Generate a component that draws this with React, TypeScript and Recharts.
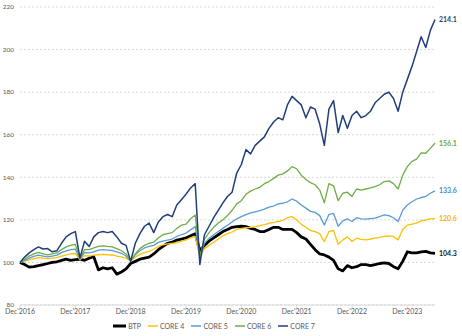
import { CartesianGrid, LabelList, Legend, Line, LineChart, XAxis, YAxis } from 'recharts'

// monthly index values, Dec'2016 = 100 (m0) through Jun'2024 (m90)
const btp = [
  100, 99, 97.8, 98, 98.5, 99, 99.5, 100, 100.3, 101, 101.5, 101, 101.3,
  101.5, 101, 102, 102.7, 96.5, 97.5, 97, 97.5, 94.5, 95.5, 97, 99.5,
  100.5, 101.5, 102, 102.5, 104, 106, 107.5, 109, 109.5, 110.5, 111, 111.5,
  112.5, 113.5, 105.5, 108, 110, 111.5, 113, 114.5, 115.5, 116.5, 116.8, 117,
  116.8, 116, 115.5, 114.5, 114.5, 115.5, 116.5, 116.5, 115.5, 115.5, 115.5, 114,
  112, 111, 108.5, 106, 104, 103.5, 102.5, 101, 97, 96, 98.5, 97.5,
  98, 99, 99, 98.5, 99, 99.5, 99.8, 99.5, 98, 97, 100.5, 105,
  104.5, 104.5, 105, 105.2, 104.5, 104.3,
]

const core4 = [
  100, 100.6, 101.2, 101.8, 102.3, 102, 101.8, 102, 102.3, 103, 103.6, 104, 104.2,
  101.2, 103.2, 103, 103.4, 103.6, 103.8, 103.6, 103.5, 103, 102.6, 102, 100.6,
  102.5, 103.8, 104.6, 105.2, 106.2, 107.5, 108.3, 108.7, 109, 109.2, 110, 110.6,
  111.5, 112.2, 102.5, 106.5, 108, 109.5, 111, 112.5, 113.5, 114.3, 115.5, 116,
  116.3, 116.5, 116.8, 117.3, 117.8, 118.4, 118.8, 119.3, 119.8, 121, 121.5, 120,
  118, 116.5, 115, 114.5, 113.5, 109.8, 114.5, 115, 108.5, 110.6, 112, 109.8,
  111.4, 110.8, 110.6, 111, 111.4, 111.8, 112.2, 112.5, 112.2, 110.6, 115.5, 117.5,
  118, 118.5, 119.5, 120, 120.5, 120.6,
]

const core5 = [
  100, 101, 102, 102.8, 103.4, 103, 102.6, 103, 103.4, 104.6, 105.4, 106, 106.3,
  101.5, 104.6, 104.5, 105, 105.8, 106, 105.8, 105.6, 105, 104.3, 103, 100.6,
  103.6, 105.5, 106.8, 107.5, 108, 109.4, 110, 110.5, 111, 112.2, 113, 113.8,
  115.3, 116.9, 102.5, 109, 111.3, 113, 114.5, 116, 117.5, 119, 120.5, 121.5,
  122.5, 123.3, 123.8, 124.3, 125, 126, 126.5, 127.5, 127.8, 128.5, 129.8, 128.8,
  127, 125.5, 124, 123.5, 122, 117.6, 122.5, 123, 117, 119.5, 120.5, 119.2,
  121, 120.5, 120.3, 120.6, 120.8, 121.5, 122.3, 122, 121, 119.2, 124.5, 127,
  128.5, 129.8, 130.5, 131, 132.5, 133.6,
]

const core6 = [
  100, 101.5, 103, 104, 104.7, 104, 103.5, 104, 104.5, 106, 107.3, 108, 108.5,
  101.8, 106, 106, 106.8, 107.5, 107.8, 107.5, 107.3, 106.5, 105.5, 104, 100.8,
  104, 106.5, 108, 109, 109.5, 111.5, 113, 113.5, 114, 116, 117.5, 118,
  120.5, 122.3, 103, 111, 114, 116.5, 118.5, 120, 122, 124.5, 127.5, 129,
  132, 133.5, 134.5, 135.3, 137, 138, 139.5, 141, 141.6, 143, 145, 144,
  141, 139, 137.5, 136.5, 134, 128, 137, 136, 129, 132.5, 133, 131,
  134.5, 134, 134.5, 135, 135.6, 136.5, 138, 138.3, 137, 134.5, 141, 145,
  147.5, 148.5, 151.5, 151.3, 153.6, 156.1,
]

const core7 = [
  100, 102.5, 104.5, 106, 107.3, 106.3, 106.5, 105, 105.5, 109, 112, 113.5, 114.5,
  102, 110, 107.5, 112, 114, 114.5, 114, 114.5, 112, 109, 108, 100.5,
  109, 113.5, 117, 118.5, 114, 119, 121.5, 122.5, 121.5, 127, 129.5, 132,
  135, 137, 99, 113, 117, 121, 124.5, 128, 131, 133, 142, 146,
  153, 151, 155, 157, 159, 163, 166, 168, 167, 174, 178, 176,
  174, 168, 173, 172, 165, 155, 172, 176, 161, 169, 163, 169,
  171, 168, 169, 171, 175, 177, 179, 180, 177, 171, 180, 186,
  192, 199, 206, 201, 209, 214.1,
]

const xTicks = [0, 12, 24, 36, 48, 60, 72, 84]
const xTickLabels = ["Dec'2016", "Dec'2017", "Dec'2018", "Dec'2019", "Dec'2020", "Dec'2021", "Dec'2022", "Dec'2023"]
const yTicks = [80, 100, 120, 140, 160, 180, 200, 220]

const series = [
  { key: 'btp', name: 'BTP', color: '#000000', labelColor: '#1a1a1a', width: 2.8 },
  { key: 'core4', name: 'CORE 4', color: '#FFC000', labelColor: '#F2B300', width: 1.3 },
  { key: 'core5', name: 'CORE 5', color: '#5B9BD5', labelColor: '#4A8BC9', width: 1.3 },
  { key: 'core6', name: 'CORE 6', color: '#70AD47', labelColor: '#6AA842', width: 1.3 },
  { key: 'core7', name: 'CORE 7', color: '#203F7A', labelColor: '#2A3F66', width: 1.5 },
]

const data = btp.map((v, i) => ({
  m: i,
  btp: v,
  core4: core4[i],
  core5: core5[i],
  core6: core6[i],
  core7: core7[i],
}))

const last = data.length - 1
const FONT = 'Lato, "Liberation Sans", sans-serif'

function endLabel(color: string) {
  return (props: any) => {
    const { x, y, index, value } = props
    if (index !== last) return null
    return (
      <text x={Number(x) + 4} y={Number(y)} dy={2.5} fontSize={7} fontWeight={700} fill={color} fontFamily={FONT}>
        {Number(value).toFixed(1)}
      </text>
    )
  }
}

function renderLegend() {
  return (
    <div style={{ display: 'flex', justifyContent: 'center', alignItems: 'center', fontFamily: FONT, fontSize: 7, color: '#595959', lineHeight: '10px' }}>
      {series.map((s) => (
        <span key={s.key} style={{ display: 'inline-flex', alignItems: 'center', marginRight: 7 }}>
          <svg width={s.key === 'btp' ? 13 : 10} height={6} style={{ marginRight: 2 }}>
            <line x1={0} x2={s.key === 'btp' ? 13 : 10} y1={3} y2={3} stroke={s.color} strokeWidth={s.key === 'btp' ? 3 : 1.5} />
          </svg>
          {s.name}
        </span>
      ))}
    </div>
  )
}

export default function App() {
  return (
    <div style={{ position: 'absolute', left: 0, top: 0, width: 462, height: 336, background: '#fff' }}>
      <LineChart width={462} height={336} data={data} margin={{ top: 7, right: 27, bottom: 2, left: 0 }}>
        <CartesianGrid vertical={false} stroke="#D9D9D9" strokeDasharray="2 2" />
        <XAxis
          dataKey="m"
          type="number"
          domain={[0, 90]}
          ticks={xTicks}
          interval={0}
          tickFormatter={(v: number) => xTickLabels[v / 12]}
          stroke="#D9D9D9"
          tickSize={3}
          tickMargin={1}
          height={16}
          tick={{ fontSize: 7, fill: '#595959', fontFamily: FONT }}
        />
        <YAxis
          domain={[80, 220]}
          ticks={yTicks}
          axisLine={false}
          tickLine={false}
          tickSize={0}
          width={20}
          tickMargin={6}
          tick={{ fontSize: 6.5, fill: '#595959', fontFamily: FONT }}
        />
        <Legend verticalAlign="bottom" height={13} content={renderLegend} />
        {series.map((s) => (
          <Line
            key={s.key}
            dataKey={s.key}
            name={s.name}
            stroke={s.color}
            strokeWidth={s.width}
            dot={false}
            activeDot={false}
            isAnimationActive={false}
            strokeLinejoin="round"
          >
            <LabelList dataKey={s.key} content={endLabel(s.labelColor)} />
          </Line>
        ))}
      </LineChart>
    </div>
  )
}
